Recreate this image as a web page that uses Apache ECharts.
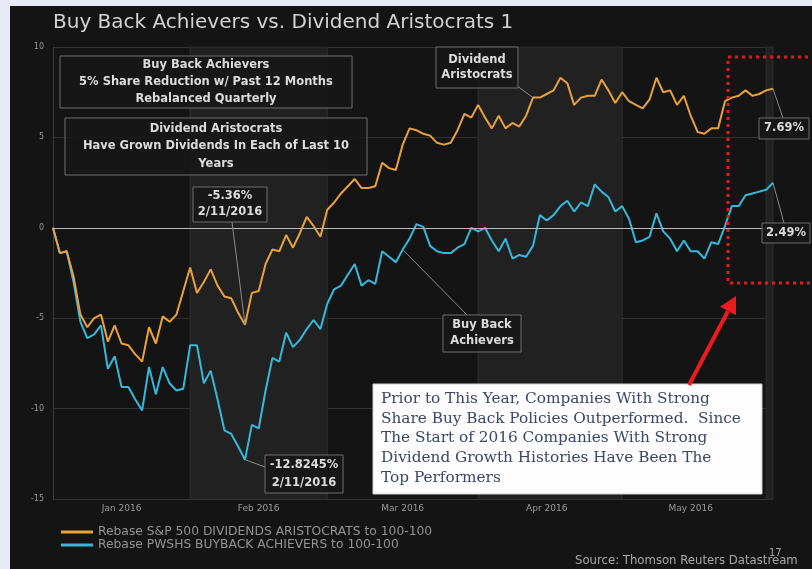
<!DOCTYPE html>
<html>
<head>
<meta charset="utf-8">
<script src="https://cdn.jsdelivr.net/npm/echarts@6/dist/echarts.min.js"></script>
<style>
  html, body { margin: 0; padding: 0; background: #e7e9f5; }
  #panel { position: absolute; left: 10px; top: 6px; width: 802px; height: 563px; background: #141414; }
  #c { position: absolute; left: 0; top: 0; width: 812px; height: 569px; }
</style>
</head>
<body>
<div id="panel"></div>
<div id="c"></div>
<script>
// Trading sessions, 31 Dec 2015 to 2 Jun 2016
const sessions = [
  ['2015-12', [31]],
  ['2016-01', [4, 5, 6, 7, 8, 11, 12, 13, 14, 15, 19, 20, 21, 22, 25, 26, 27, 28, 29]],
  ['2016-02', [1, 2, 3, 4, 5, 8, 9, 10, 11, 12, 16, 17, 18, 19, 22, 23, 24, 25, 26, 29]],
  ['2016-03', [1, 2, 3, 4, 7, 8, 9, 10, 11, 14, 15, 16, 17, 18, 21, 22, 23, 24, 28, 29, 30, 31]],
  ['2016-04', [1, 4, 5, 6, 7, 8, 11, 12, 13, 14, 15, 18, 19, 20, 21, 22, 25, 26, 27, 28, 29]],
  ['2016-05', [2, 3, 4, 5, 6, 9, 10, 11, 12, 13, 16, 17, 18, 19, 20, 23, 24, 25, 26, 27, 31]],
  ['2016-06', [1, 2]]
];
const categories = [];
sessions.forEach(([m, days]) => days.forEach(d => categories.push(m + '-' + String(d).padStart(2, '0'))));

const tickMonths = ['2016-01', '2016-02', '2016-03', '2016-04', '2016-05'];
const tickLabels = ['Jan 2016', 'Feb 2016', 'Mar 2016', 'Apr 2016', 'May 2016'];
const shadedMonths = ['2016-02', '2016-04', '2016-06'];

// Rebased performance, % change since 31 Dec 2015
const dividendAristocrats = [
  0, -1.4, -1.3, -2.7, -4.8, -5.5, -5.0, -4.8, -6.3, -5.4,
  -6.4, -6.5, -7.0, -7.4, -5.5, -6.4, -4.9, -5.2, -4.8, -3.5,
  -2.2, -3.6, -3.0, -2.3, -3.2, -3.8, -3.9, -4.7, -5.36, -3.6,
  -3.5, -2.0, -1.2, -1.3, -0.4, -1.1, -0.3, 0.6, 0.1, -0.5,
  1.0, 1.4, 1.9, 2.3, 2.7, 2.2, 2.2, 2.3, 3.6, 3.3,
  3.2, 4.6, 5.5, 5.4, 5.2, 5.1, 4.7, 4.6, 4.7, 5.4,
  6.3, 6.1, 6.8, 6.1, 5.5, 6.2, 5.5, 5.8, 5.6, 6.2,
  7.2, 7.2, 7.4, 7.6, 8.3, 8.0, 6.8, 7.2, 7.3, 7.3,
  8.2, 7.6, 6.9, 7.5, 7.0, 6.8, 6.6, 7.1, 8.3, 7.5,
  7.6, 6.8, 7.3, 6.2, 5.3, 5.2, 5.5, 5.5, 7.0, 7.2,
  7.3, 7.6, 7.3, 7.4, 7.6, 7.69
];
const buybackAchievers = [
  0, -1.4, -1.3, -3.0, -5.2, -6.1, -5.9, -5.4, -7.8, -7.1,
  -8.8, -8.8, -9.5, -10.1, -7.7, -9.2, -7.7, -8.6, -9.0, -8.9,
  -6.5, -6.5, -8.6, -7.9, -9.5, -11.2, -11.4, -12.1, -12.8245, -10.9,
  -11.1, -9.0, -7.2, -7.4, -5.8, -6.6, -6.2, -5.6, -5.1, -5.6,
  -4.2, -3.4, -3.2, -2.6, -2.0, -3.2, -2.9, -3.1, -1.3, -1.6,
  -1.9, -1.2, -0.6, 0.2, 0.05, -1.0, -1.3, -1.4, -1.4, -1.1,
  -0.9, 0, -0.2, 0, -0.7, -1.3, -0.6, -1.7, -1.5, -1.6,
  -1.0, 0.7, 0.4, 0.7, 1.2, 1.5, 0.9, 1.4, 1.2, 2.4,
  2.0, 1.7, 0.9, 1.2, 0.5, -0.8, -0.7, -0.5, 0.8, -0.2,
  -0.6, -1.3, -0.7, -1.3, -1.3, -1.7, -0.8, -0.9, 0.1, 1.2,
  1.2, 1.8, 1.9, 2.0, 2.1, 2.49
];

const seriesNames = [
  'Rebase S&P 500 DIVIDENDS ARISTOCRATS to 100-100',
  'Rebase PWSHS BUYBACK ACHIEVERS to 100-100'
];

// Month helpers derived from the session list
const monthRange = m => {
  const idx = categories.map((c, i) => c.startsWith(m) ? i : -1).filter(i => i >= 0);
  return [idx[0], idx[idx.length - 1]];
};
const labelAt = tickMonths.map(m => { const r = monthRange(m); return Math.round((r[0] + r[1]) / 2); });
const bands = shadedMonths.map(m => {
  const r = monthRange(m);
  return [{ xAxis: r[0] - 0.5 }, { xAxis: Math.min(r[1] + 0.5, categories.length - 1) }];
});

const sans = '"DejaVu Sans", Verdana, sans-serif';
const chart = echarts.init(document.getElementById('c'));

chart.setOption({
  backgroundColor: 'transparent',
  animation: false,
  legend: {
    orient: 'vertical', left: 56, top: 521,
    itemWidth: 32, itemHeight: 3, itemGap: 1, icon: 'rect',
    textStyle: { color: '#939393', fontSize: 12.3, lineHeight: 12, fontFamily: sans },
    data: seriesNames
  },
  grid: { left: 53, right: 39, top: 47, bottom: 70 },
  xAxis: {
    type: 'category', data: categories, boundaryGap: false,
    axisLine: { show: false }, axisTick: { show: false }, splitLine: { show: false },
    axisLabel: {
      interval: i => labelAt.includes(i),
      formatter: (v, i) => tickLabels[labelAt.indexOf(i)] || '',
      color: '#9a9a9a', fontSize: 9, fontFamily: sans, margin: 5
    }
  },
  yAxis: {
    type: 'value', min: -15, max: 10, interval: 5,
    axisLine: { show: true, lineStyle: { color: '#3a3a3a' } },
    axisTick: { show: false },
    axisLabel: { color: '#9a9a9a', fontSize: 8, fontFamily: sans, margin: 9 },
    splitLine: { lineStyle: { color: '#323232', width: 1 } }
  },
  series: [
    {
      name: seriesNames[0], type: 'line', data: dividendAristocrats,
      showSymbol: false, color: '#e9a23b', lineStyle: { width: 2 }, z: 4,
      markArea: {
        silent: true,
        itemStyle: { color: '#212121', borderColor: '#2d2d2d', borderWidth: 1 },
        data: bands
      },
      markLine: {
        silent: true, symbol: 'none', label: { show: false },
        lineStyle: { color: '#b9b9b9', width: 1.2, type: 'solid' },
        data: [{ yAxis: 0 }]
      }
    },
    {
      name: seriesNames[1], type: 'line', data: buybackAchievers,
      showSymbol: false, color: '#36b9d9', lineStyle: { width: 2 }, z: 3
    }
  ]
});

// Callouts, notes and highlight drawn on top of the plot
const px = (s, i, data) => chart.convertToPixel({ seriesIndex: s }, [i, data[i]]);
const last = categories.length - 1;
const troughIdx = categories.indexOf('2016-02-11');
const pDivTrough = px(0, troughIdx, dividendAristocrats);
const pBuyTrough = px(1, troughIdx, buybackAchievers);
const pDivEnd = px(0, last, dividendAristocrats);
const pBuyEnd = px(1, last, buybackAchievers);
const pDivTag = px(0, 70, dividendAristocrats);
const pBuyTag = px(1, 51, buybackAchievers);

const boxStyle = { fill: 'rgba(22,22,22,0.85)', stroke: '#6e6e6e', lineWidth: 1 };
const txt = { fill: '#dcdcdc', font: 'bold 11.5px ' + sans, align: 'center', verticalAlign: 'middle' };

function box(x, y, w, h, lines, lh) {
  lh = lh || 0;
  const els = [{ type: 'rect', shape: { x, y, width: w, height: h }, style: boxStyle, z: 20 }];
  const top = y + h / 2 - (lines.length - 1) * lh / 2;
  lines.forEach((t, k) => els.push({
    type: 'text', x: x + w / 2, y: top + k * lh, z: 21,
    style: Object.assign({}, txt, { text: t })
  }));
  return els;
}
function leader(a, b) {
  return { type: 'line', shape: { x1: a[0], y1: a[1], x2: b[0], y2: b[1] }, style: { stroke: '#8a8a8a', lineWidth: 1 }, z: 19 };
}

// Red arrow geometry
const tip = [736, 296], tail = [689, 385];
const dx = tip[0] - tail[0], dy = tip[1] - tail[1], len = Math.hypot(dx, dy);
const ux = dx / len, uy = dy / len, nx = -uy, ny = ux;
const base = [tip[0] - 17 * ux, tip[1] - 17 * uy];

const noteLines = [
  'Prior to This Year, Companies With Strong',
  'Share Buy Back Policies Outperformed.  Since',
  'The Start of 2016 Companies With Strong',
  'Dividend Growth Histories Have Been The',
  'Top Performers'
];

const graphics = [].concat(
  [{
    type: 'text', x: 53, y: 23, z: 23,
    style: { text: 'Buy Back Achievers vs. Dividend Aristocrats 1', fill: '#d2d2d2', font: '20px ' + sans, align: 'left', verticalAlign: 'middle' }
  }],
  box(60, 56, 292, 52, ['Buy Back Achievers', '5% Share Reduction w/ Past 12 Months', 'Rebalanced Quarterly'], 17),
  box(65, 118, 302, 57, ['Dividend Aristocrats', 'Have Grown Dividends In Each of Last 10', 'Years'], 17.5),
  [leader([232, 222], pDivTrough)],
  box(193, 187, 74, 35, ['-5.36%', '2/11/2016'], 16),
  [leader([265, 467], pBuyTrough)],
  box(265, 455, 78, 38, ['-12.8245%', '2/11/2016'], 18),
  [leader([517, 86], pDivTag)],
  box(436, 47, 82, 41, ['Dividend', 'Aristocrats'], 15),
  [leader([467, 315], pBuyTag)],
  box(443, 315, 78, 37, ['Buy Back', 'Achievers'], 16),
  [leader(pDivEnd, [783, 118])],
  box(759, 118, 50, 21, ['7.69%']),
  [leader(pBuyEnd, [784, 223])],
  box(762, 223, 48, 20, ['2.49%']),
  [
    {
      type: 'rect', shape: { x: 728, y: 57, width: 110, height: 226 }, z: 22,
      style: { fill: 'none', stroke: '#e3191b', lineWidth: 3, lineDash: [3, 4] }
    },
    {
      type: 'rect', shape: { x: 373, y: 384, width: 389, height: 110 }, z: 22,
      style: { fill: '#fdfdfd', stroke: '#d0d0d0', lineWidth: 1 }
    },
    {
      type: 'text', x: 381, y: 389, z: 23,
      style: {
        text: noteLines.join('\n'), fill: '#3b4768', lineHeight: 19.7,
        font: '15.3px "DejaVu Serif", Georgia, serif', align: 'left', verticalAlign: 'top'
      }
    },
    {
      type: 'line', shape: { x1: tail[0], y1: tail[1], x2: base[0], y2: base[1] }, z: 24,
      style: { stroke: '#ec1c1c', lineWidth: 4 }
    },
    {
      type: 'polygon', z: 24,
      shape: { points: [tip, [base[0] + 9 * nx, base[1] + 9 * ny], [base[0] - 9 * nx, base[1] - 9 * ny]] },
      style: { fill: '#ec1c1c' }
    },
    {
      type: 'text', x: 575, y: 561, z: 23,
      style: { text: 'Source: Thomson Reuters Datastream', fill: '#a8a8a8', font: '11.7px ' + sans, align: 'left', verticalAlign: 'middle' }
    },
    {
      type: 'text', x: 769, y: 553, z: 23,
      style: { text: '17', fill: '#a8a8a8', font: '10px ' + sans, align: 'left', verticalAlign: 'middle' }
    }
  ]
);

chart.setOption({ graphic: graphics });
</script>
</body>
</html>
